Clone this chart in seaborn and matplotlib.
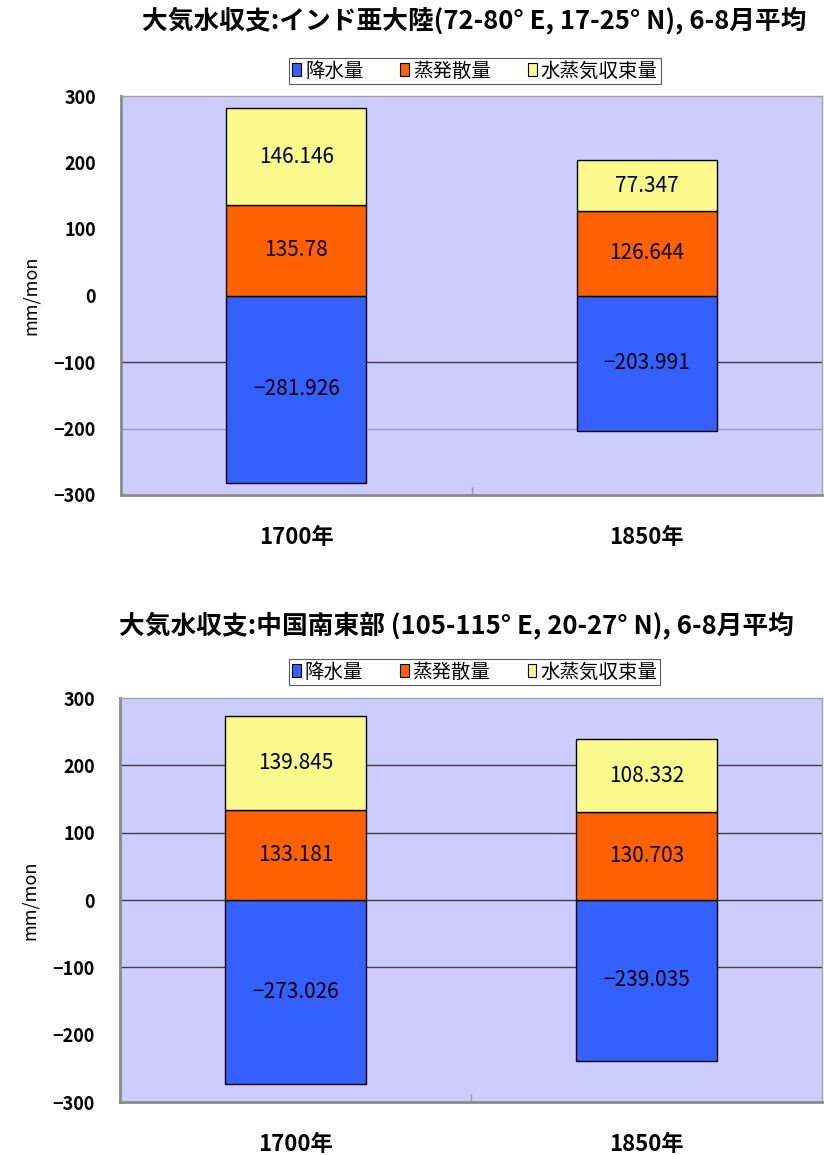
import matplotlib
matplotlib.use("Agg")
import matplotlib.pyplot as plt
import matplotlib.patches as mpatches
from matplotlib.ticker import FixedLocator
import seaborn as sns

# ---- data ----
years = ["1700年", "1850年"]
series_names = ["降水量", "蒸発散量", "水蒸気収束量"]

titles = [
    "大気水収支:インド亜大陸(72-80° E, 17-25° N), 6-8月平均",
    "大気水収支:中国南東部 (105-115° E, 20-27° N), 6-8月平均",
]
precip = [[-281.926, -203.991], [-273.026, -239.035]]
evap = [[135.78, 126.644], [133.181, 130.703]]
conv = [[146.146, 77.347], [139.845, 108.332]]
y_ticks = [300, 200, 100, 0, -100, -200, -300]
# gridlines visible in each panel (level, colour)
grid_levels = [[(-100, "#404040"), (-200, "#9a9ab8")],
               [(200, "#404040"), (100, "#404040"), (0, "#404040"), (-100, "#404040")]]

colors = ["#3360FF", "#FF6000", "#FAFA8C"]
bg = "#CCCCFF"

sns.set_theme(style="white")
plt.rcParams["font.family"] = ["Noto Sans CJK JP", "DejaVu Sans"]
plt.rcParams["text.color"] = "black"
plt.rcParams["axes.labelcolor"] = "black"
plt.rcParams["xtick.color"] = "black"
plt.rcParams["ytick.color"] = "black"

fig = plt.figure(figsize=(8.24, 11.55), dpi=100)

axes_rects = [
    [121 / 824, 1 - 495 / 1155, 701 / 824, 399 / 1155],
    [120 / 824, 1 - 1102 / 1155, 702 / 824, 404 / 1155],
]
title_pos = [(474 / 824, 1 - 20 / 1155), (456 / 824, 1 - 625 / 1155)]
legend_y = [(495 - 71) / 399, (1102 - 672) / 404]


def fmt(v):
    return f"{v:g}".replace("-", "−")


for i in range(2):
    ax = fig.add_axes(axes_rects[i])
    ax.set_facecolor(bg)
    for lvl, c in grid_levels[i]:
        ax.axhline(lvl, color=c, lw=1.0, zorder=0.5)

    sns.barplot(x=years, y=precip[i], color=colors[0], width=0.4,
                edgecolor="black", linewidth=1.0, ax=ax, saturation=1)
    sns.barplot(x=years, y=evap[i], color=colors[1], width=0.4,
                edgecolor="black", linewidth=1.0, ax=ax, saturation=1)
    sns.barplot(x=years, y=conv[i], bottom=evap[i], color=colors[2], width=0.4,
                edgecolor="black", linewidth=1.0, ax=ax, saturation=1)

    for cont, vals in zip(ax.containers, [precip[i], evap[i], conv[i]]):
        ax.bar_label(cont, labels=[fmt(v) for v in vals], label_type="center",
                     fontsize=15, color="black")

    ax.set_xlim(-0.5, 1.5)
    ax.set_ylim(-300, 300)
    ax.set_yticks(y_ticks)
    ax.set_yticklabels([str(t).replace("-", "−") for t in y_ticks],
                       fontsize=13, fontweight="bold")
    ax.tick_params(axis="y", length=0, pad=18)
    ax.tick_params(axis="x", which="major", length=0, pad=22, labelsize=16)
    for lab in ax.get_xticklabels():
        lab.set_fontweight("bold")
    ax.xaxis.set_minor_locator(FixedLocator([0.5]))
    ax.tick_params(axis="x", which="minor", direction="in", length=6,
                   color="#999999", width=1, bottom=True)
    ax.set_xlabel("")
    ax.set_ylabel("mm/mon", fontsize=13, labelpad=10)

    for s in ["left", "bottom"]:
        ax.spines[s].set_color("#8a8a8a")
        ax.spines[s].set_linewidth(2.0)
    for s in ["top", "right"]:
        ax.spines[s].set_color("#a0a0a0")
        ax.spines[s].set_linewidth(1.0)

    handles = [mpatches.Patch(facecolor=c, edgecolor="black", linewidth=0.8)
               for c in colors]
    leg = ax.legend(handles, series_names, loc="center",
                    bbox_to_anchor=(0.505, legend_y[i]), ncol=3, frameon=True,
                    fancybox=False, fontsize=14, handlelength=0.45,
                    handleheight=0.6, handletextpad=0.2, columnspacing=1.9,
                    borderpad=0.15, borderaxespad=0)
    leg.get_frame().set_edgecolor("#303030")
    leg.get_frame().set_linewidth(0.8)

    fig.text(title_pos[i][0], title_pos[i][1], titles[i], ha="center", va="center",
             fontsize=18.5, fontweight="bold")

fig.savefig("out.png", dpi=100, facecolor="white")
